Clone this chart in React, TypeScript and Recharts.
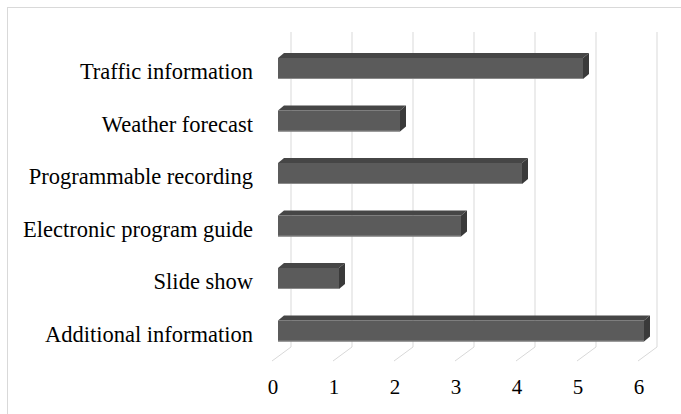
import React from "react";
import { BarChart, Bar, XAxis, YAxis, CartesianGrid } from "recharts";

const categories = [
  "Traffic information",
  "Weather forecast",
  "Programmable recording",
  "Electronic program guide",
  "Slide show",
  "Additional information",
];
const values = [5, 2, 4, 3, 1, 6];
const xTicks = [0, 1, 2, 3, 4, 5, 6];

const data = categories.map((name, i) => ({ name, value: values[i] }));

const FONT = "'Liberation Serif', 'Times New Roman', serif";

// 3D offsets
const FRONT_DX = -13;
const FRONT_DY = 10;
const DEPTH_DX = 6;
const DEPTH_DY = -5;

const Bar3D = (props: any) => {
  const { x, y, width, height } = props;
  if (width == null || height == null) return null;
  const fx = x + FRONT_DX;
  const fy = y + FRONT_DY;
  const w = width;
  const h = height;
  const top = `${fx},${fy} ${fx + DEPTH_DX},${fy + DEPTH_DY} ${fx + w + DEPTH_DX},${fy + DEPTH_DY} ${fx + w},${fy}`;
  const side = `${fx + w},${fy} ${fx + w + DEPTH_DX},${fy + DEPTH_DY} ${fx + w + DEPTH_DX},${fy + h + DEPTH_DY} ${fx + w},${fy + h}`;
  return (
    <g>
      <polygon points={top} fill="#464646" />
      <polygon points={side} fill="#3a3a3a" />
      <rect x={fx} y={fy} width={w} height={h} fill="#5b5b5b" />
      <line x1={fx} y1={fy + h - 0.5} x2={fx + w} y2={fy + h - 0.5} stroke="#8a8a8a" strokeWidth={1} />
    </g>
  );
};

const XTick = (props: any) => {
  const { x, y, payload } = props;
  return (
    <g>
      <line x1={x} y1={y} x2={x - 19} y2={y + 14} stroke="#d9d9d9" strokeWidth={1} />
      <text x={x - 18} y={y + 47} textAnchor="middle" fontFamily={FONT} fontSize={21} fill="#000">
        {payload.value}
      </text>
    </g>
  );
};

const YTick = (props: any) => {
  const { x, y, payload } = props;
  return (
    <text x={x - 38} y={y + 21} textAnchor="end" fontFamily={FONT} fontSize={22.5} fill="#000">
      {payload.value}
    </text>
  );
};

export default function App() {
  return (
    <div style={{ position: "absolute", left: 0, top: 0, width: 681, height: 414, overflow: "hidden", background: "#fff" }}>
      <div
        style={{
          position: "absolute",
          left: 7,
          top: 7,
          width: 720,
          height: 440,
          borderLeft: "1px solid #d9d9d9",
          borderTop: "1px solid #d9d9d9",
        }}
      />
      <div style={{ position: "absolute", left: 0, top: 0 }}>
        <BarChart
          width={681}
          height={414}
          data={data}
          layout="vertical"
          margin={{ top: 32, right: 24, bottom: 0, left: 0 }}
          barSize={21}
        >
          <CartesianGrid horizontal={false} stroke="#d9d9d9" />
          <XAxis
            type="number"
            domain={[0, 6]}
            ticks={xTicks}
            interval={0}
            axisLine={false}
            tickLine={false}
            tickSize={0}
            tickMargin={0}
            height={67}
            tick={<XTick />}
          />
          <YAxis
            type="category"
            dataKey="name"
            width={291}
            axisLine={false}
            tickLine={false}
            tickSize={0}
            tickMargin={0}
            interval={0}
            tick={<YTick />}
          />
          <Bar dataKey="value" isAnimationActive={false} shape={<Bar3D />} />
        </BarChart>
      </div>
    </div>
  );
}
